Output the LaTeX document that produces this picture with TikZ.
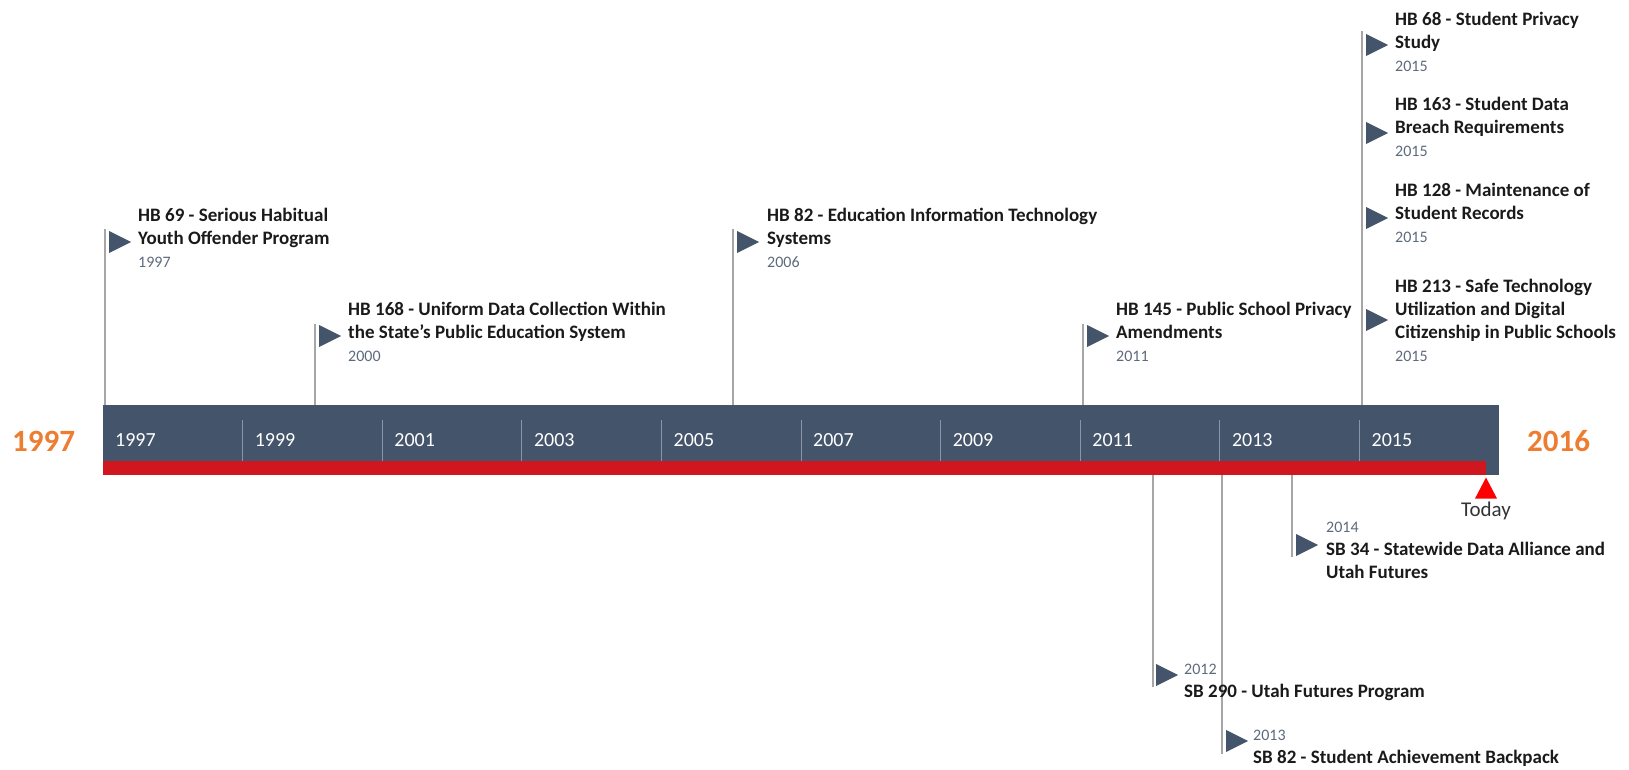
\documentclass[tikz,border=0pt]{standalone}
\usepackage{fontspec}
\setmainfont{Carlito}
\usepackage{tikz}
\usetikzlibrary{shapes.geometric}

\definecolor{slate}{HTML}{44546A}
\definecolor{barred}{HTML}{D0161E}
\definecolor{stemgrey}{HTML}{A6A6A6}
\definecolor{tickgrey}{HTML}{8A96A5}
\definecolor{yeargrey}{HTML}{5D6A7C}
\definecolor{endorange}{HTML}{ED7D31}
\definecolor{billtext}{HTML}{1A1A1A}
\definecolor{nowred}{HTML}{FF0000}

\newcommand\billfont{\fontsize{19}{23}\selectfont\bfseries}
\newcommand\yrfont{\fontsize{16}{23}\selectfont\mdseries\color{yeargrey}}
\newcommand\firstln{\rule{0pt}{15pt}}

\tikzset{
  stem/.style={draw=stemgrey, line width=1.5pt},
  septick/.style={draw=tickgrey, line width=1pt},
  flag/.style={isosceles triangle, isosceles triangle stretches,
    minimum width=22pt, minimum height=22pt, inner sep=0pt,
    fill=slate, anchor=west},
  bill/.style={anchor=north west, inner sep=0pt, align=left,
    font=\billfont, text=billtext},
  barlabel/.style={anchor=west, inner sep=0pt, text=white,
    font=\fontsize{20}{24}\selectfont},
  endyear/.style={anchor=west, inner sep=0pt, text=endorange,
    font=\fontsize{31}{36}\selectfont\bfseries},
}

\begin{document}
\begin{tikzpicture}[x=1pt,y=-1pt]
\useasboundingbox (0,0) rectangle (1629,770);

% timeline bar
\fill[slate] (103,405) rectangle (1499,475);
\fill[barred] (103,461) rectangle (1486,475);
\foreach \yr in {1999,2001,...,2015}
  \draw[septick] ({103+(\yr-1997)*69.8},420) -- ({103+(\yr-1997)*69.8},461);
\foreach \yr in {1997,1999,...,2015}
  \node[barlabel] (lab\yr) at ({115+(\yr-1997)*69.8},440) {\yr};

\node[endyear] (start) at (12,441) {1997};
\node[endyear] (end) at (1527,441) {2016};

% today marker
\node[isosceles triangle, isosceles triangle stretches, shape border rotate=90,
  minimum width=22pt, minimum height=21pt, inner sep=0pt, fill=nowred,
  anchor=apex] (now) at (1486,477) {};
\node[inner sep=0pt, text=black!80, font=\fontsize{21}{24}\selectfont]
  (nowtext) at (1486,511) {Today};

% events above the bar
\coordinate (b69) at (105,405);
\coordinate (t69) at (105,229);
\coordinate (b168) at (315,405);
\coordinate (t168) at (315,324);
\coordinate (b82) at (733,405);
\coordinate (t82) at (733,229);
\coordinate (b145) at (1083,405);
\coordinate (t145) at (1083,324);
\coordinate (b15) at (1362,405);
\coordinate (t15) at (1362,31);

\draw[stem] (b69) -- (t69);
\draw[stem] (b168) -- (t168);
\draw[stem] (b82) -- (t82);
\draw[stem] (b145) -- (t145);
\draw[stem] (b15) -- (t15);

\node[flag] (f69) at (109,242) {};
\node[flag] (f168) at (319,336) {};
\node[flag] (f82) at (737,242) {};
\node[flag] (f145) at (1087,336) {};
\node[flag] (f68) at (1366,45) {};
\node[flag] (f163) at (1366,133) {};
\node[flag] (f128) at (1366,218) {};
\node[flag] (f213) at (1366,320) {};

\node[bill] (n69) at (138,206.5)
  {\firstln HB 69 - Serious Habitual\\Youth Offender Program\\{\yrfont 1997}};
\node[bill] (n168) at (348,300.5)
  {\firstln HB 168 - Uniform Data Collection Within\\the State's Public Education System\\{\yrfont 2000}};
\node[bill] (n82) at (767,206.5)
  {\firstln HB 82 - Education Information Technology\\Systems\\{\yrfont 2006}};
\node[bill] (n145) at (1116,300.5)
  {\firstln HB 145 - Public School Privacy\\Amendments\\{\yrfont 2011}};
\node[bill] (n68) at (1395,10.5)
  {\firstln HB 68 - Student Privacy\\Study\\{\yrfont 2015}};
\node[bill] (n163) at (1395,95.5)
  {\firstln HB 163 - Student Data\\Breach Requirements\\{\yrfont 2015}};
\node[bill] (n128) at (1395,181.5)
  {\firstln HB 128 - Maintenance of\\Student Records\\{\yrfont 2015}};
\node[bill] (n213) at (1395,277.5)
  {\firstln HB 213 - Safe Technology\\Utilization and Digital\\Citizenship in Public Schools\\{\yrfont 2015}};

% events below the bar
\coordinate (b290) at (1153,475);
\coordinate (t290) at (1153,687);
\coordinate (bsb82) at (1222,475);
\coordinate (tsb82) at (1222,754);
\coordinate (b34) at (1292,475);
\coordinate (t34) at (1292,557);

\draw[stem] (b290) -- (t290);
\draw[stem] (bsb82) -- (tsb82);
\draw[stem] (b34) -- (t34);

\node[flag] (f290) at (1156,675) {};
\node[flag] (fsb82) at (1226,741) {};
\node[flag] (f34) at (1296,545) {};

\node[bill] (n290) at (1184,659)
  {\firstln{\yrfont 2012}\\SB 290 - Utah Futures Program};
\node[bill] (nsb82) at (1253,725)
  {\firstln{\yrfont 2013}\\SB 82 - Student Achievement Backpack};
\node[bill] (n34) at (1326,517)
  {\firstln{\yrfont 2014}\\SB 34 - Statewide Data Alliance and\\Utah Futures};
\end{tikzpicture}
\end{document}
